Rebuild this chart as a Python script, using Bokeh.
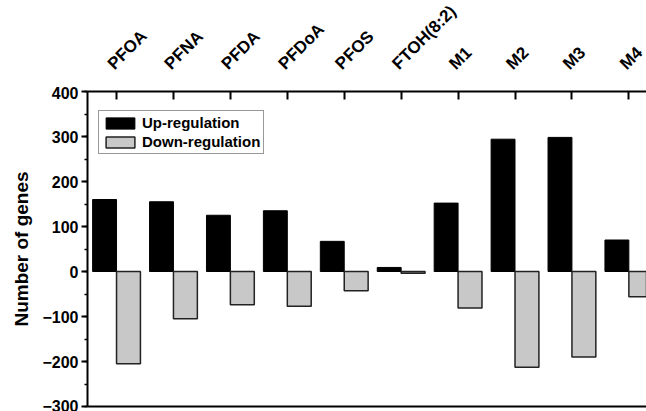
import math
from bokeh.plotting import figure
from bokeh.layouts import column
from bokeh.models import (LinearAxis, FixedTicker, SingleIntervalTicker, Legend, LegendItem,
                          ColumnDataSource, Range1d)
from bokeh.core.properties import value
from bokeh.transform import dodge
from bokeh.embed import file_html
from bokeh.resources import INLINE

categories = ["PFOA", "PFNA", "PFDA", "PFDoA", "PFOS", "FTOH(8:2)", "M1", "M2", "M3", "M4"]
up_regulation = [160, 155, 125, 135, 67, 9, 152, 294, 298, 70]
down_regulation = [-205, -105, -74, -77, -43, -4, -81, -213, -190, -56]
y_ticks_interval = 100

positions = list(range(len(categories)))
src = ColumnDataSource(dict(x=positions, up=up_regulation, down=down_regulation))

FONT = "Liberation Sans"
Y_MIN, Y_MAX = -300, 400
x_range = Range1d(-0.51, 9.31)

# ---- header strip holding the category names ----
HEAD_H = 86
head = figure(width=646, height=HEAD_H, output_backend="svg", toolbar_location=None,
              x_range=x_range, y_range=Range1d(0, HEAD_H),
              x_axis_type=None, y_axis_type=None,
              min_border_left=87, min_border_top=0, min_border_bottom=0, min_border_right=0)
head.outline_line_color = None
head.xgrid.visible = False
head.ygrid.visible = False
lab_src = ColumnDataSource(dict(x=positions, y=[20] * len(positions), text=categories))
head.text(x="x", y="y", text="text", source=lab_src, angle=math.pi / 4,
          x_offset=-6, text_align="left", text_baseline="alphabetic",
          text_font=value(FONT), text_font_style="bold", text_font_size="17px",
          text_color="black")

# ---- main chart ----
p = figure(width=646, height=411 - HEAD_H, output_backend="svg", toolbar_location=None,
           x_range=x_range, y_range=Range1d(Y_MIN, Y_MAX),
           x_axis_type=None, y_axis_type=None,
           min_border_left=87, min_border_top=5, min_border_bottom=5, min_border_right=0)
p.outline_line_color = None
p.xgrid.visible = False
p.ygrid.visible = False
p.background_fill_color = "white"

r_up = p.vbar(x=dodge("x", -0.21), top="up", bottom=0, width=0.42, source=src,
              fill_color="black", line_color="black", line_width=1)
r_down = p.vbar(x=dodge("x", 0.21), top=0, bottom="down", width=0.42, source=src,
                fill_color="#c8c8c8", line_color="#222222", line_width=1.5)

yaxis = LinearAxis(ticker=SingleIntervalTicker(interval=y_ticks_interval, num_minor_ticks=2),
                   axis_label="Number of genes")
yaxis.axis_line_width = 2
yaxis.axis_line_color = "black"
yaxis.major_tick_in = 0
yaxis.major_tick_out = 6
yaxis.major_tick_line_width = 2
yaxis.minor_tick_in = 0
yaxis.minor_tick_out = 3
yaxis.minor_tick_line_width = 1.5
yaxis.major_label_text_font = FONT
yaxis.major_label_text_font_style = "bold"
yaxis.major_label_text_font_size = "16px"
yaxis.major_label_text_color = "black"
yaxis.major_label_standoff = 3
yaxis.axis_label_text_font = FONT
yaxis.axis_label_text_font_style = "bold"
yaxis.axis_label_text_font_size = "19px"
yaxis.axis_label_text_color = "black"
yaxis.axis_label_standoff = 7
p.add_layout(yaxis, "left")

xaxis = LinearAxis(ticker=FixedTicker(ticks=positions))
xaxis.axis_line_width = 2
xaxis.axis_line_color = "black"
xaxis.major_tick_in = 8
xaxis.major_tick_out = 0
xaxis.major_tick_line_width = 2
xaxis.minor_tick_line_color = None
xaxis.major_label_text_font_size = "0px"
xaxis.major_label_text_color = None
xaxis.major_label_standoff = 0
p.add_layout(xaxis, "above")

baxis = LinearAxis(ticker=FixedTicker(ticks=[]))
baxis.axis_line_width = 2
baxis.axis_line_color = "black"
baxis.major_tick_line_color = None
baxis.minor_tick_line_color = None
baxis.major_label_text_font_size = "0px"
baxis.major_label_standoff = 0
p.add_layout(baxis, "below")

legend = Legend(items=[LegendItem(label="Up-regulation", renderers=[r_up]),
                       LegendItem(label="Down-regulation", renderers=[r_down])],
                location=(11, 252))
legend.glyph_width = 36
legend.glyph_height = 14
legend.label_text_font = FONT
legend.label_text_font_style = "bold"
legend.label_text_font_size = "15px"
legend.label_text_color = "black"
legend.label_standoff = 4
legend.label_height = 14
legend.spacing = 2
legend.padding = 3
legend.margin = 0
legend.border_line_color = "#333333"
legend.border_line_width = 1.5
legend.background_fill_alpha = 1
p.add_layout(legend)

layout = column(head, p, spacing=0)
open("out.html", "w").write(file_html(layout, INLINE))
